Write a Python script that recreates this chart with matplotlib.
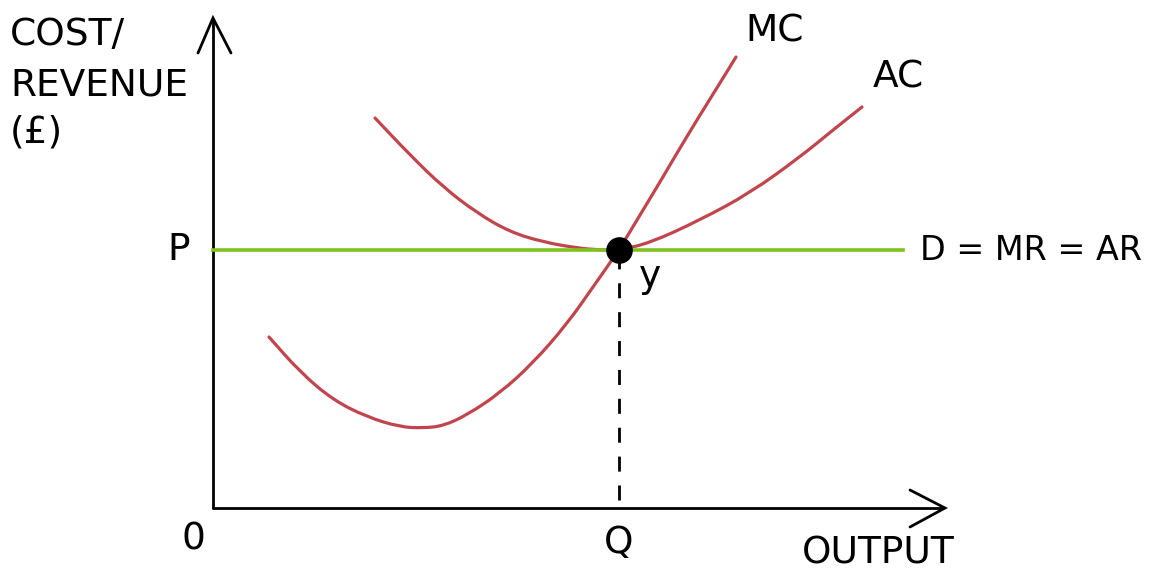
import numpy as np
import matplotlib.pyplot as plt
from matplotlib.path import Path
from matplotlib.patches import PathPatch

# coordinates measured from the origin of the diagram (pixels right / up)
mc_x = [56, 87, 120, 154, 187, 210, 230, 254, 287, 320, 354, 380, 406,
        427, 447, 464, 487, 507, 523]
mc_y = [171, 136, 108, 91, 81, 80, 82, 93, 115, 145, 184, 221, 258,
        293, 326, 355, 393, 425, 451]

ac_x = [162, 197, 230, 264, 297, 330, 364, 387, 406, 437, 487, 537, 587, 620, 649]
ac_y = [390, 353, 321, 295, 276, 266, 260, 258, 258, 265, 288, 315, 351, 378, 401]

price = 258
q_out = 406
x_end = 690

red = "#c1454c"
green = "#7dc21e"


def smooth_path(xs, ys):
    """Quadratic curve through the midpoints, using read points as controls."""
    pts = np.column_stack([xs, ys]).astype(float)
    verts = [pts[0], (pts[0] + pts[1]) / 2]
    codes = [Path.MOVETO, Path.LINETO]
    for i in range(1, len(pts) - 1):
        verts += [pts[i], (pts[i] + pts[i + 1]) / 2]
        codes += [Path.CURVE3, Path.CURVE3]
    verts.append(pts[-1])
    codes.append(Path.LINETO)
    return Path(verts, codes)


fig = plt.figure(figsize=(11.58, 5.74), dpi=100)
ax = fig.add_axes([0, 0, 1, 1])
ax.set_xlim(-213, 945)
ax.set_ylim(-66, 508)
ax.axis("off")

# axes with arrow heads
ax.plot([0, 0], [0, 488], color="black", lw=2.0, solid_capstyle="round")
ax.plot([-15, 0, 18], [455, 490, 455], color="black", lw=2.0,
        solid_capstyle="round", solid_joinstyle="miter")
ax.plot([0, 730], [0, 0], color="black", lw=2.0, solid_capstyle="round")
ax.plot([697, 732, 697], [18, 0, -19], color="black", lw=2.0,
        solid_capstyle="round", solid_joinstyle="miter")

# demand line and curves
ax.plot([0, x_end], [price, price], color=green, lw=2.6)
for xs, ys in [(ac_x, ac_y), (mc_x, mc_y)]:
    ax.add_patch(PathPatch(smooth_path(xs, ys), facecolor="none",
                           edgecolor=red, lw=2.3, capstyle="round"))

ax.plot([q_out, q_out], [8, price - 10], color="black", lw=2.0,
        dashes=(5.4, 5.0))
ax.scatter([q_out], [price], s=330, color="black", zorder=5)

fs = 27
ax.text(-203, 473, "COST/", fontsize=fs, va="center", ha="left")
ax.text(-203, 423, "REVENUE", fontsize=fs, va="center", ha="left")
ax.text(-203, 375, "(£)", fontsize=fs, va="center", ha="left")
ax.text(-23, price, "P", fontsize=fs, va="center", ha="right")
ax.text(-20, -32, "0", fontsize=fs, va="center", ha="center")
ax.text(q_out, -35, "Q", fontsize=fs, va="center", ha="center")
ax.text(742, -45, "OUTPUT", fontsize=fs, va="center", ha="right")
ax.text(426, 231, "y", fontsize=fs, va="center", ha="left")
ax.text(532, 476, "MC", fontsize=fs, va="center", ha="left")
ax.text(660, 430, "AC", fontsize=fs, va="center", ha="left")
ax.text(707, price, "D = MR = AR", fontsize=24, va="center", ha="left")

fig.savefig("out.png", dpi=100)
